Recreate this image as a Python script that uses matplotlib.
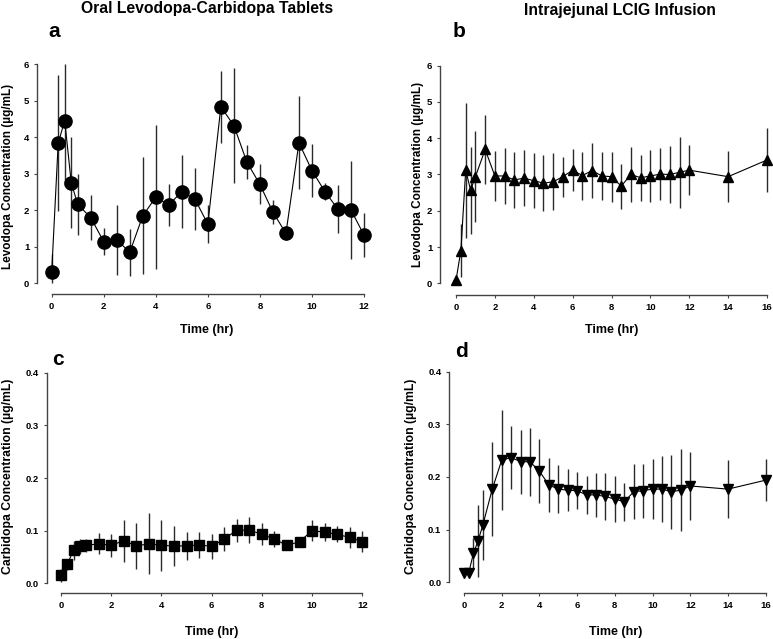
import matplotlib
matplotlib.use("Agg")
import matplotlib.pyplot as plt

plt.rcParams['font.family'] = ['Liberation Sans', 'DejaVu Sans']
plt.rcParams['font.weight'] = 'bold'

W, H = 773, 639

# sampling times (hr)
t_oral = [0, 0.25, 0.5, 0.75, 1, 1.5, 2, 2.5, 3, 3.5, 4, 4.5, 5, 5.5, 6,
          6.5, 7, 7.5, 8, 8.5, 9, 9.5, 10, 10.5, 11, 11.5, 12]
t_lcig = [0, 0.25, 0.5, 0.75, 1, 1.5, 2, 2.5, 3, 3.5, 4, 4.5, 5, 5.5, 6,
          6.5, 7, 7.5, 8, 8.5, 9, 9.5, 10, 10.5, 11, 11.5, 12, 14, 16]

# levodopa, oral tablets (a)
levo_oral = [0.31, 3.84, 4.46, 2.76, 2.16, 1.80, 1.14, 1.19, 0.85, 1.85, 2.36, 2.15, 2.51, 2.31,
             1.62, 4.84, 4.32, 3.32, 2.71, 1.95, 1.37, 3.85, 3.09, 2.51, 2.03, 2.01, 1.32]
levo_oral_sd = [0.48, 1.86, 1.80, 1.24, 0.83, 0.62, 0.37, 0.96, 0.65, 1.60, 1.98, 0.57, 1.00, 0.86,
                0.52, 0.99, 1.58, 0.47, 0.55, 0.33, 0.17, 1.27, 0.72, 0.23, 0.66, 1.34, 0.60]

# levodopa, LCIG infusion (b)
levo_lcig = [0.08, 0.90, 3.12, 2.57, 2.94, 3.69, 2.96, 2.96, 2.85, 2.90, 2.83, 2.76, 2.80, 2.94, 3.12,
             2.97, 3.11, 2.96, 2.94, 2.68, 3.00, 2.91, 2.96, 3.01, 3.00, 3.06, 3.12, 2.94, 3.40]
levo_lcig_sd = [0.0, 0.73, 1.86, 1.20, 1.25, 0.95, 0.68, 0.76, 0.76, 0.78, 0.75, 0.77, 0.78, 0.55, 0.58,
                0.66, 0.76, 0.67, 0.69, 0.62, 0.76, 0.63, 0.71, 0.72, 0.79, 0.97, 0.68, 0.70, 0.87]

# carbidopa, oral tablets (c)
carbi_oral = [0.015, 0.036, 0.063, 0.070, 0.072, 0.075, 0.072, 0.081, 0.071, 0.075, 0.072, 0.071, 0.071, 0.073,
              0.070, 0.084, 0.101, 0.101, 0.093, 0.084, 0.072, 0.079, 0.100, 0.097, 0.093, 0.087, 0.079]
carbi_oral_sd = [0.013, 0.010, 0.018, 0.015, 0.013, 0.020, 0.022, 0.040, 0.044, 0.058, 0.048, 0.038, 0.026, 0.025,
                 0.023, 0.022, 0.022, 0.024, 0.021, 0.015, 0.006, 0.006, 0.020, 0.017, 0.015, 0.020, 0.020]

# carbidopa, LCIG infusion (d)
carbi_lcig = [0.017, 0.018, 0.055, 0.079, 0.109, 0.177, 0.232, 0.237, 0.229, 0.229, 0.211, 0.185, 0.177, 0.175,
              0.174, 0.166, 0.166, 0.163, 0.158, 0.153, 0.172, 0.174, 0.177, 0.177, 0.172, 0.175, 0.183, 0.177, 0.194]
carbi_lcig_sd = [0.003, 0.006, 0.030, 0.068, 0.067, 0.089, 0.095, 0.060, 0.061, 0.065, 0.061, 0.052, 0.046, 0.040,
                 0.035, 0.036, 0.042, 0.044, 0.044, 0.036, 0.052, 0.051, 0.057, 0.062, 0.070, 0.078, 0.065, 0.055, 0.040]

levo_ticks = [0, 1, 2, 3, 4, 5, 6]
carbi_ticks = [0.0, 0.1, 0.2, 0.3, 0.4]
carbi_labels = ['0.0', '0.1', '0.2', '0.3', '0.4']
oral_xticks = [0, 2, 4, 6, 8, 10, 12]
lcig_xticks = [0, 2, 4, 6, 8, 10, 12, 14, 16]

fig = plt.figure(figsize=(W / 100, H / 100), dpi=100)


def make_axes(x0, x1, ytop, ybot, left_spine, bottom_spine, xmax, ymax):
    # x0/x1: pixel of first/last x value, ytop/ybot: pixel of max/0 y value
    ax = fig.add_axes([x0 / W, 1 - ybot / H, (x1 - x0) / W, (ybot - ytop) / H])
    ax.set_xlim(0, xmax)
    ax.set_ylim(0, ymax)
    for s in ['top', 'right']:
        ax.spines[s].set_visible(False)
    ax.spines['left'].set_position(('outward', (x0 - left_spine) * 0.72))
    ax.spines['bottom'].set_position(('outward', (bottom_spine - ybot) * 0.72))
    for s in ['left', 'bottom']:
        ax.spines[s].set_color('#444444')
        ax.spines[s].set_linewidth(1.0)
    ax.tick_params(direction='out', length=2.5, width=0.8, color='#444444',
                   labelsize=6.8, pad=3)
    ax.patch.set_visible(False)
    return ax


def draw(ax, t, y, sd, marker, ms, ymax):
    # keep the bars inside the plotted range, drawn unclipped at the edges
    lo = [min(s, v) for v, s in zip(y, sd)]
    hi = [min(s, ymax - v) for v, s in zip(y, sd)]
    ax.errorbar(t, y, yerr=[lo, hi], fmt='none', ecolor='#2a2a2a', elinewidth=1.0,
                capsize=0, zorder=2, clip_on=False)
    ax.plot(t, y, color='black', lw=0.8, marker=marker, ms=ms, mfc='black', mec='black',
            clip_on=False, zorder=3)


ax_a = make_axes(51.7, 364, 64.3, 283.3, 37, 294, 12, 6)
ax_a.set_xticks(oral_xticks)
ax_a.set_yticks(levo_ticks)
draw(ax_a, t_oral, levo_oral, levo_oral_sd, 'o', 9.5, 6)

ax_b = make_axes(456, 767, 65.7, 283.3, 440, 295, 16, 6)
ax_b.set_xticks(lcig_xticks)
ax_b.set_yticks(levo_ticks)
draw(ax_b, t_lcig, levo_lcig, levo_lcig_sd, '^', 7.5, 6)

ax_c = make_axes(61, 362.3, 372.7, 583.3, 46.7, 593.3, 12, 0.4)
ax_c.set_xticks(oral_xticks)
ax_c.set_yticks(carbi_ticks)
ax_c.set_yticklabels(carbi_labels)
draw(ax_c, t_oral, carbi_oral, carbi_oral_sd, 's', 6.5, 0.4)

ax_d = make_axes(464, 765.7, 371.7, 582.3, 449, 593, 16, 0.4)
ax_d.set_xticks(lcig_xticks)
ax_d.set_yticks(carbi_ticks)
ax_d.set_yticklabels(carbi_labels)
draw(ax_d, t_lcig, carbi_lcig, carbi_lcig_sd, 'v', 7.5, 0.4)

for ax in [ax_a, ax_b, ax_c, ax_d]:
    for lab in ax.get_xticklabels() + ax.get_yticklabels():
        lab.set_fontweight('bold')


def ftext(x, y, s, **kw):
    fig.text(x / W, 1 - y / H, s, fontweight='bold', **kw)


ftext(207, 9, 'Oral Levodopa-Carbidopa Tablets', fontsize=11.3, ha='center', va='center')
ftext(620, 10, 'Intrajejunal LCIG Infusion', fontsize=11.3, ha='center', va='center')

ftext(48, 37, 'a', fontsize=15, ha='left', va='baseline')
ftext(453, 37, 'b', fontsize=15, ha='left', va='baseline')
ftext(52, 365, 'c', fontsize=15, ha='left', va='baseline')
ftext(455, 357, 'd', fontsize=15, ha='left', va='baseline')

ftext(207, 330, 'Time (hr)', fontsize=9, ha='center', va='center')
ftext(612, 330, 'Time (hr)', fontsize=9, ha='center', va='center')
ftext(212, 632, 'Time (hr)', fontsize=9, ha='center', va='center')
ftext(616, 632, 'Time (hr)', fontsize=9, ha='center', va='center')

ftext(8, 176, 'Levodopa Concentration (µg/mL)', fontsize=8.5, rotation=90, ha='center', va='center')
ftext(418, 174, 'Levodopa Concentration (µg/mL)', fontsize=8.5, rotation=90, ha='center', va='center')
ftext(8, 476, 'Carbidopa Concentration (µg/mL)', fontsize=8.8, rotation=90, ha='center', va='center')
ftext(411, 476, 'Carbidopa Concentration (µg/mL)', fontsize=8.8, rotation=90, ha='center', va='center')

fig.savefig('out.png', dpi=100)
